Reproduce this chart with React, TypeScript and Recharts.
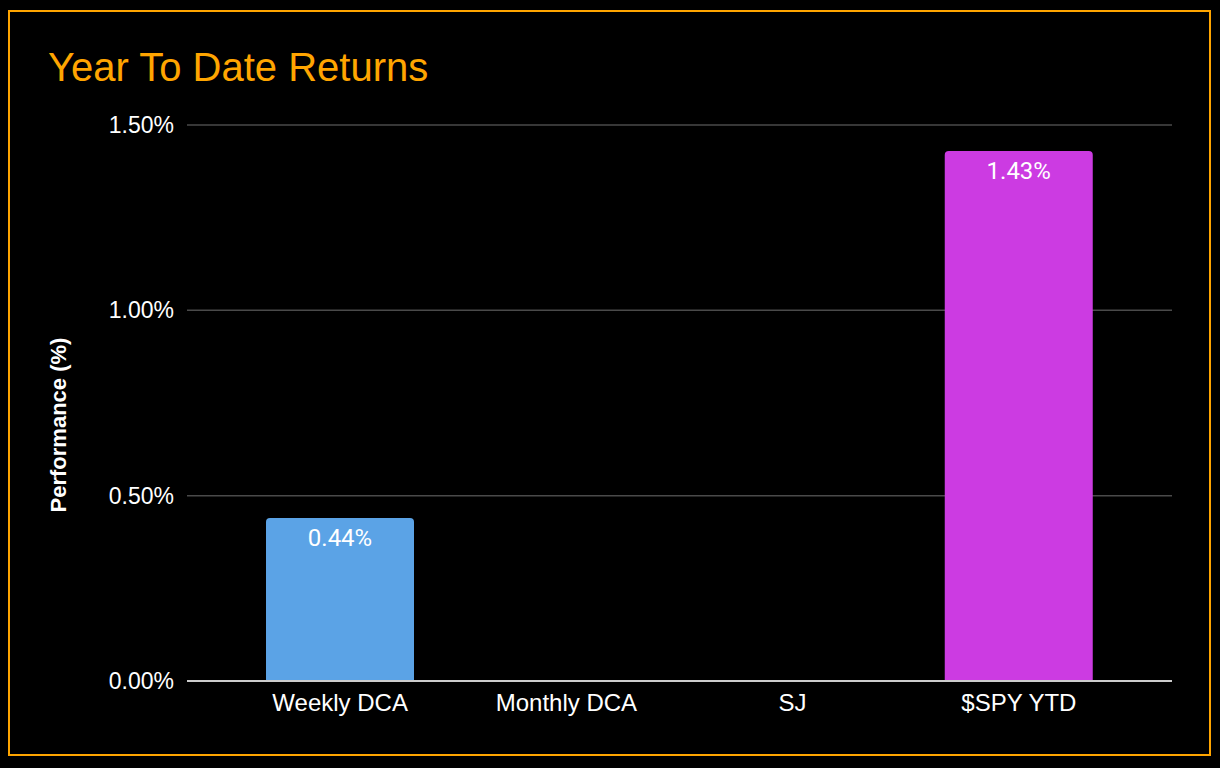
import { BarChart, Bar, XAxis, YAxis, CartesianGrid, Cell, LabelList, Label } from "recharts";

const categories = ["Weekly DCA", "Monthly DCA", "SJ", "$SPY YTD"];
const returns = [0.44, 0, 0, 1.43];
const barColors = ["#5BA3E6", "#E74C3C", "#F1C40F", "#CC3BE2"];
const yTicks = [0, 0.5, 1, 1.5];

const data = categories.map((name, i) => ({ name, value: returns[i] }));

const AXIS_FONT = "'Liberation Sans', Arial, sans-serif";
const pct = (v: number) => `${v.toFixed(2)}%`;

const YLabel = (props: any) => {
  const vb = props.viewBox ?? { x: 57, y: 125, width: 130, height: 556 };
  const cx = vb.x + 1;
  const cy = vb.y + vb.height / 2 + 22;
  return (
    <text
      x={cx}
      y={cy}
      transform={`rotate(-90, ${cx}, ${cy})`}
      textAnchor="middle"
      dominantBaseline="central"
      fill="#ffffff"
      fontFamily={AXIS_FONT}
      fontWeight="bold"
      fontSize={22}
    >
      Performance (%)
    </text>
  );
};

export default function App() {
  return (
    <div
      style={{
        position: "fixed",
        left: 0,
        top: 0,
        width: 1220,
        height: 768,
        background: "#000",
        overflow: "hidden",
      }}
    >
      <div
        style={{
          position: "absolute",
          left: 8,
          top: 10,
          width: 1199,
          height: 742,
          border: "2px solid #FFA500",
        }}
      />
      <div
        style={{
          position: "absolute",
          left: 48,
          top: 47,
          fontFamily: AXIS_FONT,
          fontSize: 40,
          lineHeight: "40px",
          color: "#FFA500",
          whiteSpace: "nowrap",
        }}
      >
        Year To Date Returns
      </div>
      <div style={{ position: "absolute", left: 0, top: 0 }}>
        <BarChart
          width={1220}
          height={768}
          data={data}
          margin={{ top: 125, right: 48, left: 57, bottom: 47 }}
          barSize={148}
        >
          <CartesianGrid stroke="#4a4a4a" strokeWidth={1.5} vertical={false} />
          <XAxis
            dataKey="name"
            height={40}
            padding={{ left: 40, right: 40 }}
            axisLine={{ stroke: "#cccccc", strokeWidth: 2 }}
            tickLine={false}
            tickMargin={7}
            interval={0}
            tick={{ fill: "#ffffff", fontSize: 24, fontFamily: AXIS_FONT }}
          />
          <YAxis
            width={130}
            domain={[0, 1.5]}
            ticks={yTicks}
            tickFormatter={pct}
            axisLine={false}
            tickLine={false}
            tickMargin={7}
            tick={{ fill: "#ffffff", fontSize: 23, fontFamily: AXIS_FONT }}
          >
            <Label content={<YLabel />} />
          </YAxis>
          <Bar dataKey="value" radius={[4, 4, 0, 0]} isAnimationActive={false}>
            {data.map((d, i) => (
              <Cell key={d.name} fill={barColors[i]} />
            ))}
            <LabelList
              dataKey="value"
              position="insideTop"
              offset={11}
              formatter={(v: any) => (Number(v) > 0 ? pct(Number(v)) : "")}
              style={{ fill: "#ffffff", fontSize: 24, fontFamily: "Roboto, sans-serif" }}
            />
          </Bar>
        </BarChart>
      </div>
    </div>
  );
}
